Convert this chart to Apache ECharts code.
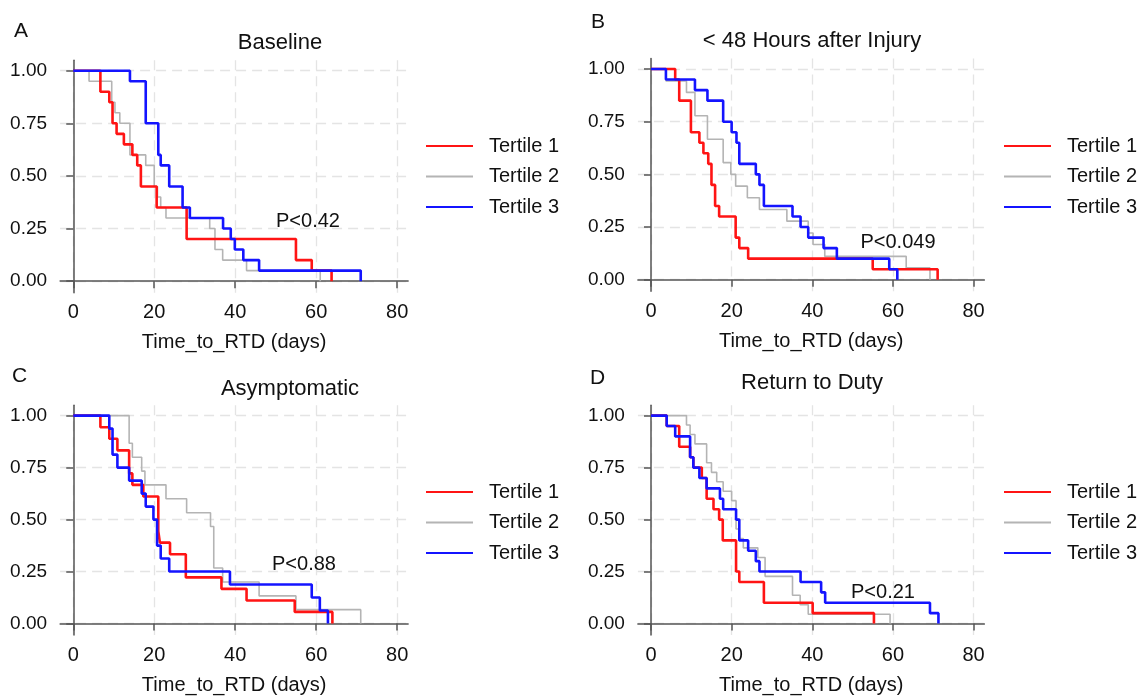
<!DOCTYPE html>
<html>
<head>
<meta charset="utf-8">
<title>Time to RTD by tertile</title>
<script src="https://cdn.jsdelivr.net/npm/echarts@6/dist/echarts.min.js"></script>
<style>
  html, body { margin: 0; padding: 0; background: #fff; }
  #chart { width: 1143px; height: 696px; }
</style>
</head>
<body>
<div id="chart"></div>
<script>
// Kaplan-Meier step curves: time (days) / survival proportion
const xTicks = [0, 20, 40, 60, 80];
const yTicks = [0, 0.25, 0.5, 0.75, 1];
const tertiles = ['Tertile 1', 'Tertile 2', 'Tertile 3'];
const panelTitles = ['Baseline', '< 48 Hours after Injury', 'Asymptomatic', 'Return to Duty'];
const panelLetters = ['A', 'B', 'C', 'D'];
const pValues = ['P<0.42', 'P<0.049', 'P<0.88', 'P<0.21'];

// A: Baseline
const baseT1Time = [0, 6.7, 8.9, 9.7, 10.7, 12.5, 14.6, 15.8, 16.7, 20.6, 28, 55, 58.9, 63.8];
const baseT1Surv = [1, 0.90, 0.85, 0.75, 0.70, 0.65, 0.60, 0.55, 0.45, 0.35, 0.20, 0.10, 0.05, 0];
const baseT2Time = [0, 3.9, 9.5, 10.3, 11.5, 14, 17.9, 20, 20.8, 21.6, 22.9, 33.7, 35, 36.9, 42.8, 61];
const baseT2Surv = [1, 0.95, 0.85, 0.80, 0.75, 0.60, 0.55, 0.45, 0.40, 0.35, 0.30, 0.25, 0.15, 0.10, 0.05, 0];
const baseT3Time = [0, 14, 17.9, 21, 21.6, 23.7, 27, 28.8, 37, 38.9, 39.9, 42, 45.9, 71];
const baseT3Surv = [1, 0.95, 0.75, 0.60, 0.55, 0.45, 0.35, 0.30, 0.25, 0.20, 0.15, 0.10, 0.05, 0];

// B: < 48 hours after injury
const acuteT1Time = [0, 6, 7, 9.9, 12, 13, 14.2, 15, 15.9, 16.9, 21, 21.9, 24.1, 55, 71.1];
const acuteT1Surv = [1, 0.95, 0.85, 0.70, 0.65, 0.60, 0.55, 0.45, 0.35, 0.30, 0.20, 0.15, 0.10, 0.05, 0];
const acuteT2Time = [0, 3.7, 8.8, 10.9, 14, 17.9, 19.8, 21, 23.9, 26.9, 33.7, 39, 40.2, 43.1, 63.3, 69.2];
const acuteT2Surv = [1, 0.944, 0.889, 0.778, 0.667, 0.556, 0.5, 0.444, 0.389, 0.333, 0.278, 0.222, 0.167, 0.111, 0.056, 0];
const acuteT3Time = [0, 3.7, 10.9, 14, 17.9, 20, 21.2, 21.9, 26, 26.9, 28, 35.1, 37.1, 39, 42.8, 46.1, 59.1, 61.1];
const acuteT3Surv = [1, 0.95, 0.90, 0.85, 0.75, 0.70, 0.65, 0.55, 0.50, 0.45, 0.35, 0.30, 0.25, 0.20, 0.15, 0.10, 0.05, 0];

// C: Asymptomatic
const asymT1Time = [0, 6.7, 8.9, 10.9, 13.8, 14.6, 17.3, 21, 21.4, 23.9, 27.8, 36.6, 42.8, 54.7, 64];
const asymT1Surv = [1, 0.944, 0.889, 0.833, 0.722, 0.667, 0.611, 0.444, 0.389, 0.333, 0.222, 0.167, 0.111, 0.056, 0];
const asymT2Time = [0, 13.8, 14.6, 16.9, 17.7, 22.9, 28, 33.9, 34.7, 36.9, 45.9, 55, 71];
const asymT2Surv = [1, 0.867, 0.8, 0.733, 0.667, 0.6, 0.533, 0.467, 0.267, 0.2, 0.133, 0.067, 0];
const asymT3Time = [0, 8.9, 9.7, 10.9, 13.8, 16.9, 17.9, 19.8, 20.7, 21.6, 23.7, 38.7, 58.9, 60.9, 62.9];
const asymT3Surv = [1, 0.9375, 0.8125, 0.75, 0.6875, 0.625, 0.5625, 0.5, 0.375, 0.3125, 0.25, 0.1875, 0.125, 0.0625, 0];

// D: Return to duty
const rtdT1Time = [0, 3.9, 7, 9.7, 10.5, 12.6, 13.8, 15.5, 16.9, 17.8, 21.1, 21.9, 28, 40.1, 55.3];
const rtdT1Surv = [1, 0.95, 0.85, 0.80, 0.75, 0.70, 0.60, 0.55, 0.50, 0.40, 0.25, 0.20, 0.10, 0.05, 0];
const rtdT2Time = [0, 8.8, 9.7, 10.9, 13.8, 15, 16.3, 17.9, 20, 21.1, 21.9, 22.9, 26.5, 28.3, 35.1, 37, 39, 59.3];
const rtdT2Surv = [1, 0.955, 0.909, 0.864, 0.773, 0.727, 0.682, 0.636, 0.591, 0.455, 0.409, 0.364, 0.318, 0.227, 0.136, 0.091, 0.045, 0];
const rtdT3Time = [0, 3.9, 6, 9.7, 10.5, 12, 13.8, 17.1, 17.9, 21.1, 21.9, 24.1, 26, 26.9, 37.1, 42.2, 43.2, 69.2, 71.3];
const rtdT3Surv = [1, 0.95, 0.90, 0.80, 0.75, 0.70, 0.65, 0.60, 0.55, 0.50, 0.40, 0.35, 0.30, 0.25, 0.20, 0.15, 0.10, 0.05, 0];

const panels = [
  [[baseT1Time, baseT1Surv], [baseT2Time, baseT2Surv], [baseT3Time, baseT3Surv]],
  [[acuteT1Time, acuteT1Surv], [acuteT2Time, acuteT2Surv], [acuteT3Time, acuteT3Surv]],
  [[asymT1Time, asymT1Surv], [asymT2Time, asymT2Surv], [asymT3Time, asymT3Surv]],
  [[rtdT1Time, rtdT1Surv], [rtdT2Time, rtdT2Surv], [rtdT3Time, rtdT3Surv]]
];

const FONT = "'Liberation Sans', Arial, Helvetica, sans-serif";
const TXT = '#111';
const AXIS = '#555';
const lineColors = ['#ff1414', '#b4b4b4', '#1414ff'];
const lineWidths = [2.6, 1.6, 2.6];

// grid boxes, legend spots, title / letter / p-value positions
const grids = [
  { left: 60.1, top: 60.2, width: 348, height: 232.5 },
  { left: 637.9, top: 58.5, width: 346.5, height: 232.8 },
  { left: 60.1, top: 405.2, width: 348, height: 232 },
  { left: 637.9, top: 405.2, width: 346.5, height: 232 }
];
const legendPos = [[420, 131], [998, 131], [420, 477], [998, 477]];
const titlePos = [[280, 43], [812, 41], [290, 389], [812, 383]];
const letterPos = [[14, 31], [591, 22], [12, 376], [590, 378]];
const pPos = [[308, 221], [898, 242], [304, 564], [883, 592]];

const chart = echarts.init(document.getElementById('chart'));

const option = {
  animation: false,
  backgroundColor: '#fff',
  textStyle: { fontFamily: FONT },
  grid: grids.map(g => Object.assign({ containLabel: false }, g)),
  xAxis: grids.map((g, i) => ({
    type: 'value',
    gridIndex: i,
    min: -3.25,
    max: 82.7,
    name: 'Time_to_RTD (days)',
    nameLocation: 'middle',
    nameGap: 40,
    nameTextStyle: { fontSize: 20, color: TXT, fontFamily: FONT },
    axisLine: { show: true, lineStyle: { color: AXIS, width: 1.5 } },
    axisTick: { show: true, length: 7, lineStyle: { color: AXIS, width: 1.5 }, customValues: xTicks },
    axisLabel: { fontSize: 20, color: TXT, margin: 10, fontFamily: FONT, customValues: xTicks },
    splitLine: { show: true, lineStyle: { color: '#e4e4e4', width: 1.3, type: [10, 6] } }
  })),
  yAxis: grids.map((g, i) => ({
    type: 'value',
    gridIndex: i,
    min: -0.055,
    max: 1.05,
    axisLine: { show: true, lineStyle: { color: AXIS, width: 1.5 } },
    axisTick: { show: true, length: 7, lineStyle: { color: AXIS, width: 1.5 }, customValues: yTicks },
    axisLabel: {
      fontSize: 19, color: TXT, margin: 13, fontFamily: FONT, customValues: yTicks,
      formatter: v => v.toFixed(2)
    },
    splitLine: { show: true, lineStyle: { color: '#e4e4e4', width: 1.3, type: [10, 6] } }
  })),
  legend: legendPos.map(([x, y]) => ({
    orient: 'vertical',
    left: x,
    top: y,
    itemWidth: 47,
    itemHeight: 14,
    itemGap: 10.5,
    selectedMode: false,
    data: tertiles,
    itemStyle: { opacity: 0 },
    textStyle: { fontSize: 20, color: TXT, fontFamily: FONT, lineHeight: 20, padding: [0, 0, 0, 11] }
  })),
  series: [],
  graphic: []
};

panels.forEach((curves, p) => {
  curves.forEach(([times, surv], k) => {
    option.series.push({
      name: tertiles[k],
      type: 'line',
      step: 'end',
      xAxisIndex: p,
      yAxisIndex: p,
      symbol: 'none',
      clip: false,
      z: k === 1 ? 2 : 3,
      lineStyle: { color: lineColors[k], width: lineWidths[k] },
      itemStyle: { color: lineColors[k] },
      data: times.map((t, j) => [t, surv[j]])
    });
  });

  option.graphic.push({
    type: 'text', x: titlePos[p][0], y: titlePos[p][1], z: 100,
    style: { text: panelTitles[p], font: `22px ${FONT}`, fill: TXT, textAlign: 'center', textVerticalAlign: 'middle' }
  });
  option.graphic.push({
    type: 'text', x: letterPos[p][0], y: letterPos[p][1], z: 100,
    style: { text: panelLetters[p], font: `21px ${FONT}`, fill: TXT, textAlign: 'left', textVerticalAlign: 'middle' }
  });
  option.graphic.push({
    type: 'text', x: pPos[p][0], y: pPos[p][1], z: 100,
    style: { text: pValues[p], font: `20px ${FONT}`, fill: TXT, textAlign: 'center', textVerticalAlign: 'middle' }
  });
});

chart.setOption(option);
window.addEventListener('resize', () => chart.resize());
</script>
</body>
</html>
